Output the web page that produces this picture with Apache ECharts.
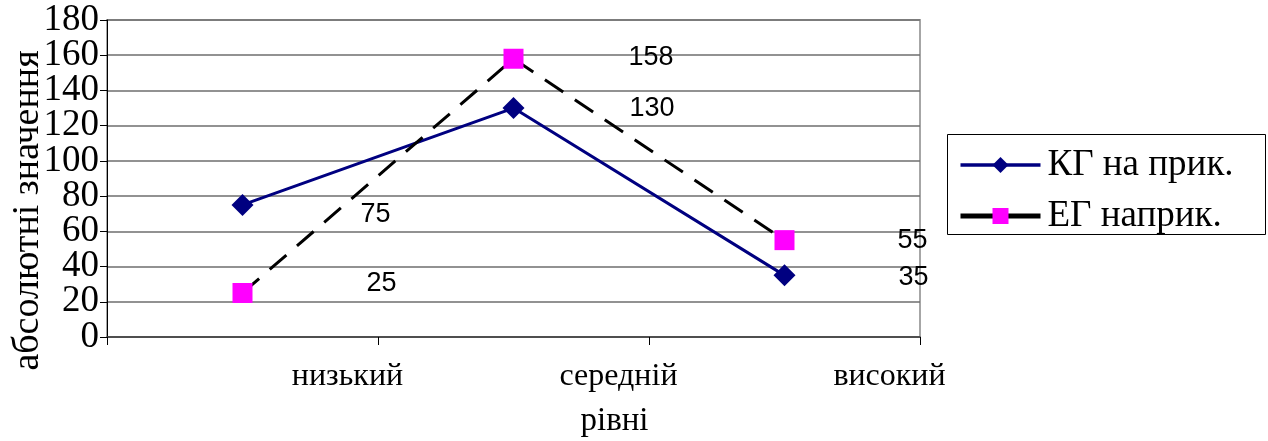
<!DOCTYPE html>
<html>
<head>
<meta charset="utf-8">
<script src="https://cdn.jsdelivr.net/npm/echarts@6/dist/echarts.min.js"></script>
<style>
  html, body { margin: 0; padding: 0; background: #fff; }
  #chart { width: 1268px; height: 441px; }
</style>
</head>
<body>
<div id="chart"></div>
<script>
// Levels and results for the two groups
const levels = ['низький', 'середній', 'високий'];
const kgValues = [75, 130, 35];
const egValues = [25, 158, 55];
const yTicks = [0, 20, 40, 60, 80, 100, 120, 140, 160, 180];

const seriesNames = ['КГ на прик.', 'ЕГ наприк.'];

// Per-point nudges of the value labels (px)
const kgLabelShift = [[107, 10], [105, 0], [103, 2]];
const egLabelShift = [[114, -9], [105, -1], [103, 0]];

const serif = 'Liberation Serif';
const sans = 'Liberation Sans';

function withLabels(values, shifts) {
  return values.map((v, i) => ({
    value: v,
    label: { offset: shifts[i] }
  }));
}

// The large tick numbers sit closer than their font height, so the labels
// are split over two coincident value axes (even / odd ticks) to keep all shown.
function tickLabel(parity) {
  return (v) => (yTicks.indexOf(v) % 2 === parity ? String(v) : '');
}

const chart = echarts.init(document.getElementById('chart'), null, { renderer: 'canvas' });

const valueLabel = {
  show: true,
  position: 'right',
  distance: 0,
  align: 'left',
  verticalAlign: 'middle',
  fontFamily: sans,
  fontSize: 27,
  color: '#000'
};

const yRange = {
  type: 'value',
  position: 'left',
  min: yTicks[0],
  max: yTicks[yTicks.length - 1],
  interval: yTicks[1] - yTicks[0]
};

const yLabelStyle = {
  margin: 8,
  showMinLabel: true,
  showMaxLabel: true,
  hideOverlap: false,
  fontFamily: serif,
  fontSize: 37,
  color: '#000'
};

chart.setOption({
  animation: false,
  backgroundColor: '#fff',
  grid: {
    left: 107, right: 348, top: 20, bottom: 104,
    containLabel: false,
    outerBoundsMode: 'none',
    show: true,
    borderColor: '#a6a6a6',
    borderWidth: 2
  },
  xAxis: {
    type: 'category',
    data: levels,
    boundaryGap: true,
    name: 'рівні',
    nameLocation: 'middle',
    nameGap: 68,
    nameMoveOverlap: false,
    nameTextStyle: {
      fontFamily: serif, fontSize: 33, color: '#000',
      padding: [0, 0, 0, 202]
    },
    axisLine: { show: true, lineStyle: { color: '#404040', width: 1.5 } },
    axisTick: { show: true, length: 8, inside: false, lineStyle: { color: '#000', width: 1 } },
    axisLabel: {
      interval: 0,
      margin: 24,
      hideOverlap: false,
      fontFamily: serif,
      fontSize: 32,
      color: '#000',
      padding: [0, 0, 0, 210]
    },
    splitLine: { show: false }
  },
  yAxis: [
    Object.assign({}, yRange, {
      name: 'абсолютні значення',
      nameLocation: 'middle',
      nameRotate: 90,
      nameGap: 60,
      nameMoveOverlap: false,
      nameTextStyle: {
        fontFamily: serif, fontSize: 38, color: '#000',
        padding: [0, 64, 0, 0]
      },
      axisLine: { show: true, lineStyle: { color: '#000', width: 1 } },
      axisTick: { show: true, length: 7, inside: false, lineStyle: { color: '#000', width: 1 } },
      axisLabel: Object.assign({}, yLabelStyle, { formatter: tickLabel(0) }),
      splitLine: { show: true, lineStyle: { color: '#6e6e6e', width: 1.5 } }
    }),
    Object.assign({}, yRange, {
      offset: 0,
      axisLine: { show: false },
      axisTick: { show: false },
      axisLabel: Object.assign({}, yLabelStyle, { formatter: tickLabel(1) }),
      splitLine: { show: false }
    })
  ],
  legend: {
    orient: 'vertical',
    left: 953,
    top: 139,
    itemWidth: 80,
    itemHeight: 20,
    itemGap: 9,
    selectedMode: false,
    data: [
      { name: seriesNames[0], lineStyle: { width: 3.5 } },
      { name: seriesNames[1], lineStyle: { type: 'solid', width: 5 } }
    ],
    textStyle: { fontFamily: serif, fontSize: 37, color: '#000', lineHeight: 42, padding: [0, 0, 0, 2] }
  },
  graphic: [
    {
      type: 'rect',
      z: 100,
      shape: { x: 947, y: 235, width: 321, height: 40 },
      style: { fill: '#fff' },
      silent: true
    },
    {
      type: 'rect',
      z: 101,
      shape: { x: 947.5, y: 134.5, width: 318, height: 100 },
      style: { fill: 'none', stroke: '#000', lineWidth: 1 },
      silent: true
    }
  ],
  series: [
    {
      name: seriesNames[0],
      type: 'line',
      yAxisIndex: 0,
      data: withLabels(kgValues, kgLabelShift),
      symbol: 'diamond',
      symbolSize: 22,
      lineStyle: { color: '#000080', width: 3 },
      itemStyle: { color: '#000080' },
      label: valueLabel,
      z: 3
    },
    {
      name: seriesNames[1],
      type: 'line',
      yAxisIndex: 0,
      data: withLabels(egValues, egLabelShift),
      symbol: 'rect',
      symbolSize: 20,
      lineStyle: { color: '#000', width: 3, type: [22, 14] },
      itemStyle: { color: '#ff00ff' },
      label: valueLabel,
      z: 4
    }
  ]
});
</script>
</body>
</html>
